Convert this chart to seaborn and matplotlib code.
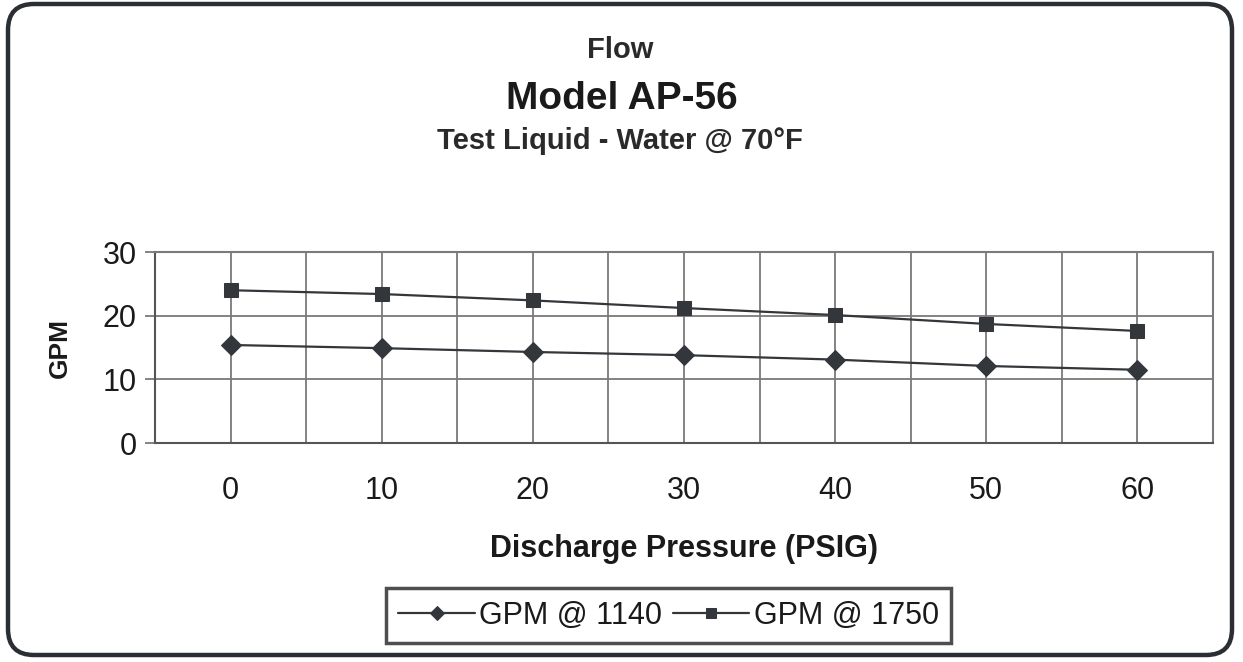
import matplotlib

matplotlib.use("Agg")
import matplotlib.pyplot as plt
import pandas as pd
import seaborn as sns
from matplotlib.patches import FancyBboxPatch
from matplotlib.transforms import IdentityTransform
from matplotlib.ticker import MultipleLocator

# values
pressure_psig = [0, 10, 20, 30, 40, 50, 60]
gpm_1140 = [15.4, 14.9, 14.3, 13.8, 13.1, 12.1, 11.5]
gpm_1750 = [24.0, 23.4, 22.4, 21.2, 20.1, 18.7, 17.6]
series_names = ["GPM @ 1140", "GPM @ 1750"]

INK = "#33373b"
GRID = "#7a7a7a"
TXT = "#1a1a1a"

df = pd.concat(
    [
        pd.DataFrame({"pressure": pressure_psig, "gpm": gpm_1140, "series": series_names[0]}),
        pd.DataFrame({"pressure": pressure_psig, "gpm": gpm_1750, "series": series_names[1]}),
    ],
    ignore_index=True,
)

sns.set_theme(style="white")
plt.rcParams["font.family"] = ["Liberation Sans", "DejaVu Sans"]

fig = plt.figure(figsize=(12.43, 6.62), dpi=100)
ax = fig.add_axes([0.1247, 0.3308, 0.8512, 0.2885])

sns.lineplot(
    data=df,
    x="pressure",
    y="gpm",
    hue="series",
    style="series",
    markers={series_names[0]: "D", series_names[1]: "s"},
    dashes=False,
    palette={series_names[0]: INK, series_names[1]: INK},
    markersize=10,
    markeredgecolor=INK,
    linewidth=1.6,
    ax=ax,
    zorder=3,
)

ax.set_xlim(-5, 65)
ax.set_ylim(0, 30)
ax.xaxis.set_major_locator(MultipleLocator(10))
ax.xaxis.set_minor_locator(MultipleLocator(10, offset=5))
ax.yaxis.set_major_locator(MultipleLocator(10))
ax.grid(True, which="both", axis="x", color=GRID, linewidth=1.3)
ax.grid(True, which="major", axis="y", color=GRID, linewidth=1.3)
ax.set_axisbelow(True)

ax.tick_params(axis="x", which="major", length=0, pad=24, labelsize=22, colors=TXT)
ax.tick_params(axis="x", which="minor", length=7, width=1.3, color=GRID, direction="out")
ax.tick_params(axis="y", which="major", length=7, width=1.3, color=GRID, direction="out",
               left=True, labelsize=22, labelcolor=TXT, pad=6)

for name, sp in ax.spines.items():
    sp.set_visible(True)
    sp.set_color(GRID if name in ("top", "right") else "#555555")
    sp.set_linewidth(1.5)

ax.set_xlabel("Discharge Pressure (PSIG)", fontsize=22, fontweight="bold", color=TXT, labelpad=20)
ax.set_ylabel("GPM", fontsize=19, fontweight="bold", color=TXT, labelpad=22)

leg = ax.legend(
    loc="center",
    bbox_to_anchor=(0.538, 0.0702),
    bbox_transform=fig.transFigure,
    ncol=2,
    frameon=True,
    fancybox=False,
    fontsize=22,
    handlelength=2.5,
    handletextpad=0.15,
    columnspacing=0.35,
    borderpad=0.4,
    borderaxespad=0,
    markerscale=0.75,
)
leg.get_frame().set_edgecolor("#222222")
leg.get_frame().set_linewidth(2.5)
for t in leg.get_texts():
    t.set_color(TXT)

fig.text(0.499, 0.924, "Flow", ha="center", va="center", fontsize=21, fontweight="bold", color="#2a2a2a")
fig.text(0.500, 0.851, "Model AP-56", ha="center", va="center", fontsize=28, fontweight="bold", color=TXT)
fig.text(0.499, 0.787, "Test Liquid - Water @ 70°F", ha="center", va="center", fontsize=21,
         fontweight="bold", color="#2a2a2a")

frame = FancyBboxPatch(
    (8, 7), 1224, 651,
    boxstyle="round,pad=0,rounding_size=26",
    transform=IdentityTransform(),
    facecolor="none",
    edgecolor="#2b2f33",
    linewidth=3.2,
)
fig.add_artist(frame)

fig.savefig("out.png", dpi=100)
